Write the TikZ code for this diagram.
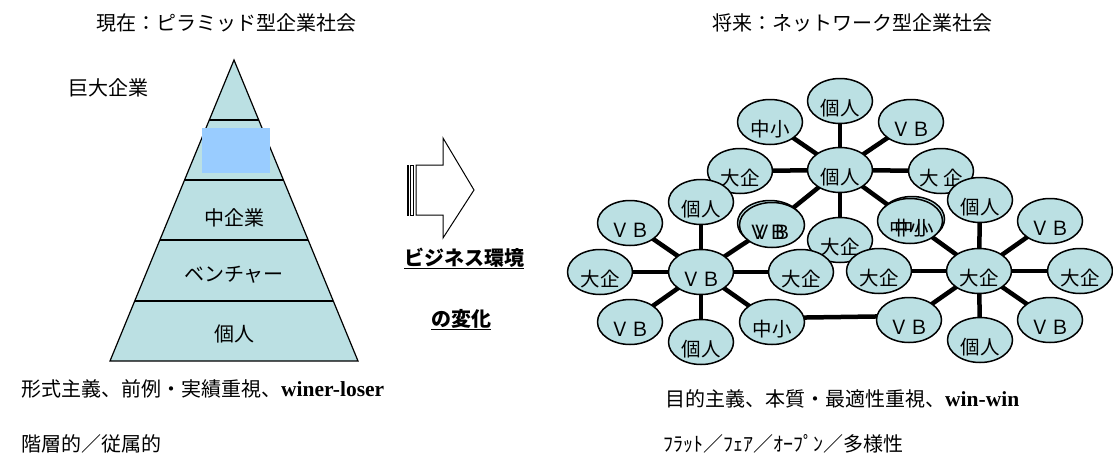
\documentclass[tikz,border=0pt]{standalone}
\usepackage{fontspec}
\setmainfont{Noto Sans CJK JP}
\newfontfamily\tms{Liberation Serif}
\usetikzlibrary{shapes.geometric,backgrounds}
\definecolor{bubfill}{RGB}{187,224,227}
\definecolor{boxblue}{RGB}{153,204,255}
\newcommand\bubble[3]{%
  \node[bub] (#1) at (#2) {};
  \node[lb] (#1t) at ([yshift=-7.5pt]#1.center) {#3};}
\begin{document}
\begin{tikzpicture}[x=1pt,y=-1pt,
  bub/.style={ellipse,draw=black,line width=1.5pt,fill=bubfill,minimum width=65pt,minimum height=45pt,inner sep=0pt},
  lb/.style={font=\fontsize{19.5}{20}\selectfont,inner sep=0pt},
  txt/.style={font=\fontsize{20}{22}\selectfont,inner sep=0pt},
  txtb/.style={font=\fontsize{20}{22}\selectfont\bfseries,inner sep=0pt},
  link/.style={line width=4.5pt},
  tier/.style={line width=1.2pt}]
\useasboundingbox (0,0) rectangle (1113,455);

% titles
\node[txt,anchor=base] (t1) at (226,30) {現在：ピラミッド型企業社会};
\node[txt,anchor=base] (t2) at (852,30) {将来：ネットワーク型企業社会};

% pyramid
\fill[bubfill] (234,60) -- (358,361) -- (110,361) -- cycle;
\draw[tier] (209.3,120) -- (258.7,120);
\draw[tier] (184.6,180) -- (283.4,180);
\draw[tier] (159.8,240) -- (308.2,240);
\draw[tier] (134.7,301) -- (333.3,301);
\draw[tier,line join=miter] (234,60) -- (358,361) -- (110,361) -- cycle;
\fill[boxblue] (202,128) rectangle (270,173);
\node[txt,anchor=base] (p1) at (234,225) {中企業};
\node[txt,anchor=base] (p2) at (234,281) {ベンチャー};
\node[txt,anchor=base] (p3) at (234,341) {個人};
\node[txt,anchor=base west] (p0) at (68,95) {巨大企業};

\node[txt,anchor=base west] (l1) at (21,396) {形式主義、前例・実績重視、{\tms\bfseries\fontsize{21.5}{22}\selectfont winer-loser}};
\node[txt,anchor=base west] (l2) at (21,451) {階層的／従属的};

% striped arrow
\draw[line width=0.9pt] (407,165) rectangle (408.6,215);
\draw[line width=0.9pt] (410.2,165) rectangle (413,215);
\draw[line width=1pt,line join=miter] (416,165) -- (443,165) -- (443,138) -- (474,190) -- (443,238) -- (443,215) -- (416,215) -- cycle;
\node[txtb,anchor=base] (m1) at (464,265) {\underline{ビジネス環境}};
\node[txtb,anchor=base] (m2) at (461,326) {\underline{の変化}};

% network: cluster 1
\bubble{a1}{840,101}{個人}
\bubble{a2}{770,122}{中小}
\bubble{a3}{911,122}{ＶＢ}
\bubble{a0}{840,170}{個人}
\bubble{a4}{740,171}{大企}
\bubble{a5}{941,171}{大 企}
\node[bub] (a6b) at (912,219) {};
\node[bub] (a6) at (910,221) {};
\node[lb] (a6bt) at ([yshift=-7.5pt,xshift=4pt]a6.center) {中小};
\node[lb] (a6t) at ([yshift=-7.5pt,xshift=-1pt]a6.center) {中小};
\node[bub] (a7b) at (770,223) {};
\node[bub] (a7) at (772,225) {};
\node[lb] (a7bt) at ([yshift=-7.5pt,xshift=-4pt]a7.center) {ＶＢ};
\node[lb] (a7t) at ([yshift=-7.5pt]a7.center) {ＶＢ};
\bubble{a8}{840,240}{大企}

% cluster 2
\bubble{b1}{701,202}{個人}
\bubble{b2}{630,223}{ＶＢ}
\bubble{b3}{600,272}{大企}
\bubble{b4}{630,322}{ＶＢ}
\bubble{b5}{701,342}{個人}
\bubble{b6}{772,322}{中小}
\bubble{b7}{801,272}{大企}
\bubble{b0}{701,272}{ＶＢ}

% cluster 3
\bubble{c1}{980,200}{個人}
\bubble{c2}{1050,221}{ＶＢ}
\bubble{c3}{1080,271}{大企}
\bubble{c4}{1050,320}{ＶＢ}
\bubble{c5}{980,340}{個人}
\bubble{c6}{909,320}{ＶＢ}
\bubble{c7}{879,271}{大企}
\bubble{c0}{979,271}{大企}

\begin{scope}[on background layer]
\foreach \n in {a1,a2,a3,a4,a5,a6,a7,a8} \draw[link] (a0.center) -- (\n.center);
\foreach \n in {b1,b2,b3,b4,b5,b6,b7,a7} \draw[link] (b0.center) -- (\n.center);
\foreach \n in {c1,c2,c3,c4,c5,c6,c7,a6} \draw[link] (c0.center) -- (\n.center);
\draw[link] ([yshift=4pt]b6.center) -- ([yshift=4pt]c6.center);
\end{scope}

\node[txt,anchor=base west] (r1) at (665,406) {目的主義、本質・最適性重視、{\tms\bfseries\fontsize{21.5}{22}\selectfont win-win}};
\node[txt,anchor=base west] (r2) at (663,451) {ﾌﾗｯﾄ／ﾌｪｱ／ｵｰﾌﾟﾝ／多様性};
\end{tikzpicture}
\end{document}
